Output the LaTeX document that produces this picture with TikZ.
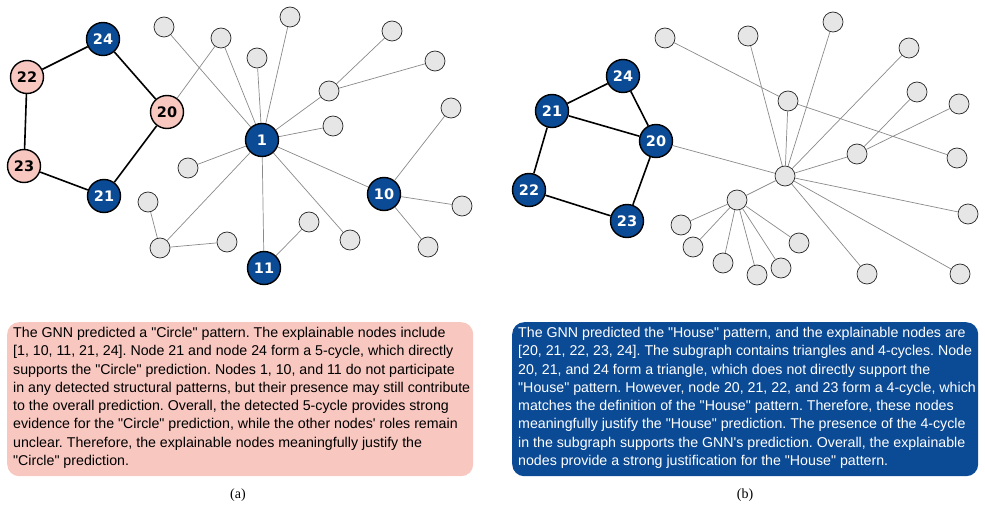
\documentclass[tikz,border=0pt]{standalone}
\usepackage{fontspec}
\setmainfont{Liberation Sans}[Ligatures=TeXOff]
\newfontfamily\labfont{DejaVu Sans}
\newfontfamily\capfont{Liberation Serif}
\definecolor{nblue}{HTML}{0B4A95}
\definecolor{npink}{HTML}{F7C7C0}
\definecolor{ngray}{HTML}{E6E6E6}
\definecolor{egray}{HTML}{8A8A8A}
\frenchspacing
\begin{document}
\begin{tikzpicture}[x=1pt,y=-1pt,
  bn/.style={circle,draw=black,line width=1.4pt,fill=nblue,minimum size=33pt,inner sep=0pt,text=white,font=\labfont\bfseries\fontsize{14.5}{14.5}\selectfont},
  pn/.style={circle,draw=black,line width=1.4pt,fill=npink,minimum size=33pt,inner sep=0pt,text=black,font=\labfont\bfseries\fontsize{14.5}{14.5}\selectfont},
  gn/.style={circle,draw=black!85,line width=0.7pt,fill=ngray,minimum size=20pt,inner sep=0pt},
  ge/.style={draw=egray,line width=0.7pt},
  be/.style={draw=black,line width=1.6pt},
  txt/.style={anchor=north west,inner sep=0pt,align=left,font=\fontsize{14.2}{18.3}\selectfont},
  capt/.style={font=\capfont\fontsize{14}{14}\selectfont}]
\useasboundingbox (0,0) rectangle (985,513);

% ---------------- left graph ----------------
\node[gn] (a1) at (164,27) {};
\node[gn] (a2) at (221,38) {};
\node[gn] (a4) at (257,58) {};
\node[gn] (a5) at (290,17) {};
\node[gn] (a6) at (392,31) {};
\node[gn] (a7) at (435,61) {};
\node[gn] (a8) at (329,91) {};
\node[gn] (a9) at (333,126) {};
\node[gn] (a10) at (188,168) {};
\node[gn] (a11) at (451,108) {};
\node[gn] (a12) at (462,206) {};
\node[gn] (a13) at (428,247) {};
\node[gn] (a14) at (350,240) {};
\node[gn] (a15) at (309,222) {};
\node[gn] (a16) at (148,202) {};
\node[gn] (a17) at (160,248) {};
\node[gn] (a18) at (227,242) {};
\node[pn] (L20) at (167,112) {20};
\node[pn] (L22) at (27,77) {22};
\node[pn] (L23) at (24,166) {23};
\node[bn] (L24) at (103,39) {24};
\node[bn] (L21) at (104,196) {21};
\node[bn] (L1) at (262,140) {1};
\node[bn] (L10) at (384,194) {10};
\node[bn] (L11) at (264,268) {11};

% ---------------- right graph ----------------
\node[gn] (b1) at (665,38) {};
\node[gn] (b2) at (748,36) {};
\node[gn] (b3) at (833,22) {};
\node[gn] (b4) at (909,48) {};
\node[gn] (b5) at (788,101) {};
\node[gn] (b6) at (917,92) {};
\node[gn] (b7) at (959,104) {};
\node[gn] (b8) at (857,154) {};
\node[gn] (b9) at (957,158) {};
\node[gn] (bc) at (785,176) {};
\node[gn] (b10) at (968,214) {};
\node[gn] (b11) at (737,200) {};
\node[gn] (b12) at (681,225) {};
\node[gn] (b13) at (693,247) {};
\node[gn] (b14) at (723,263) {};
\node[gn] (b15) at (757,275) {};
\node[gn] (b16) at (781,268) {};
\node[gn] (b17) at (799,243) {};
\node[gn] (b18) at (867,274) {};
\node[gn] (b19) at (960,274) {};
\node[bn] (R24) at (623,76) {24};
\node[bn] (R21) at (552,111) {21};
\node[bn] (R20) at (656,141) {20};
\node[bn] (R22) at (529,190) {22};
\node[bn] (R23) at (627,221) {23};

% edges (drawn between node borders)
\path[ge] (a1)--(L1) (a2)--(L20) (a2)--(L1) (a4)--(L1) (a5)--(L1)
  (a8)--(L1) (a8)--(a6) (a8)--(a7) (a9)--(L1) (a10)--(L1) (L1)--(L10)
  (L10)--(a11) (L10)--(a12) (L10)--(a13) (L1)--(a14) (L1)--(L11)
  (L11)--(a15) (L1)--(a17) (a17)--(a16) (a17)--(a18);
\path[be] (L24)--(L22) (L22)--(L23) (L23)--(L21) (L21)--(L20) (L20)--(L24);

\path[ge] (b1)--(b5) (b5)--(b9) (b5)--(bc) (b2)--(bc) (b3)--(bc) (b4)--(bc)
  (b8)--(bc) (b8)--(b6) (b8)--(b7) (R20)--(bc) (bc)--(b10) (bc)--(b19)
  (bc)--(b18) (bc)--(b11) (b11)--(b12) (b11)--(b13) (b11)--(b14)
  (b11)--(b15) (b11)--(b16) (b11)--(b17);
\path[be] (R24)--(R21) (R24)--(R20) (R21)--(R20) (R21)--(R22) (R22)--(R23) (R23)--(R20);

% ---------------- text boxes ----------------
\node[draw=none,fill=npink,rounded corners=12pt,minimum width=466pt,minimum height=154pt,anchor=north west,inner sep=0pt] (boxa) at (7,322) {};
\node[txt,text=black] (ta) at (13,327) {The GNN predicted a "Circle" pattern. The explainable nodes include\\
{[}1, 10, 11, 21, 24]. Node 21 and node 24 form a 5-cycle, which directly\\
supports the "Circle" prediction. Nodes 1, 10, and 11 do not participate\\
in any detected structural patterns, but their presence may still contribute\\
to the overall prediction. Overall, the detected 5-cycle provides strong\\
evidence for the "Circle" prediction, while the other nodes' roles remain\\
unclear. Therefore, the explainable nodes meaningfully justify the\\
"Circle" prediction.};

\node[draw=none,fill=nblue,rounded corners=12pt,minimum width=466pt,minimum height=154pt,anchor=north west,inner sep=0pt] (boxb) at (512,322) {};
\node[txt,text=white] (tb) at (518,327) {The GNN predicted the "House" pattern, and the explainable nodes are\\
{[}20, 21, 22, 23, 24]. The subgraph contains triangles and 4-cycles. Node\\
20, 21, and 24 form a triangle, which does not directly support the\\
"House" pattern. However, node 20, 21, 22, and 23 form a 4-cycle, which\\
matches the definition of the "House" pattern. Therefore, these nodes\\
meaningfully justify the "House" prediction. The presence of the 4-cycle\\
in the subgraph supports the GNN's prediction. Overall, the explainable\\
nodes provide a strong justification for the "House" pattern.};

\node[capt] (ca) at (238,495) {(a)};
\node[capt] (cb) at (745,495) {(b)};
\end{tikzpicture}
\end{document}
